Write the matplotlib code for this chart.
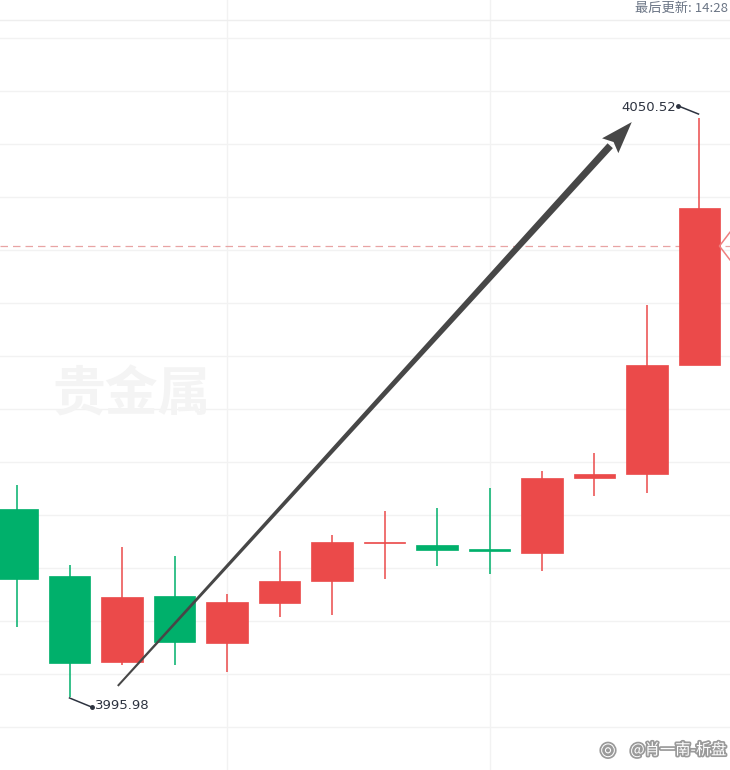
import matplotlib
matplotlib.use("Agg")
import matplotlib.pyplot as plt
from matplotlib.patches import Polygon
import matplotlib.patheffects as pe
import numpy as np

plt.rcParams['font.family'] = ['Noto Sans CJK SC', 'DejaVu Sans']

# ---- data (OHLC) ----
opens  = [4013.69, 4007.38, 3999.28, 4005.49, 4001.07, 4004.83, 4006.91, 4010.48, 4010.30, 4009.93, 4009.54, 4016.61, 4016.99, 4027.25]
highs  = [4015.95, 4008.41, 4010.11, 4009.26, 4005.68, 4009.73, 4011.24, 4013.50, 4013.78, 4015.67, 4017.27, 4018.96, 4032.91, 4050.52]
lows   = [4002.57, 3995.98, 3998.99, 3998.99, 3998.33, 4003.52, 4003.70, 4007.10, 4008.32, 4007.57, 4007.85, 4014.91, 4015.20, 4027.25]
closes = [4007.10, 3999.18, 4005.40, 4001.16, 4004.93, 4006.91, 4010.58, 4010.58, 4009.83, 4009.73, 4016.61, 4016.99, 4027.25, 4042.04]
grid_levels = [4058.06, 4053.07, 4048.08, 4043.08, 4038.09, 4033.10, 4028.11, 4023.12, 4018.12, 4013.13,
               4008.14, 4003.15, 3998.15, 3993.16, 3988.17]
ref_price = 4038.46
arrow_start = (1.92, 3997.02)
arrow_end = (11.71, 4050.14)
header_text = "最后更新: 14:28"
watermark = "贵金属"
weibo = "@肖一南-析盘"

RED = "#eb4a4a"
GREEN = "#00b06b"

fig = plt.figure(figsize=(7.3, 7.7), dpi=100)
ax = fig.add_axes([0, 0, 1, 1])
ax.set_xlim(-0.324, 13.581)
ax.set_ylim(3989.10, 4061.64)
ax.axis('off')

# grid
for g in grid_levels:
    ax.axhline(g, color="#f2f2f2", lw=1, zorder=0)
for xv in [4, 9]:
    ax.axvline(xv, color="#f2f2f2", lw=1, zorder=0)

# watermark
ax.text(3.68, 4024.4, watermark, fontsize=38, fontweight='bold', color="#f4f4f4",
        ha='right', va='center', zorder=0.5)

# header
ax.axhline(4059.76, color="#eeeeee", lw=1, zorder=0)
fig.text(728 / 730, 1 - 8 / 770, header_text, fontsize=9.5, color="#6b7585", ha='right', va='center')

# reference dashed line
ax.axhline(ref_price, color="#e8a4a4", lw=0.9, ls=(0, (6, 4)), zorder=1)

# candles
x = np.arange(len(opens))
for i in x:
    o, h, l, c = opens[i], highs[i], lows[i], closes[i]
    col = RED if c >= o else GREEN
    ax.vlines(i, l, h, color=col, lw=1.1, zorder=2)
    bottom = min(o, c)
    height = max(abs(c - o), 0.14)
    ax.bar(i, height, bottom=bottom, width=0.79, color=col, edgecolor=col, lw=0.5, zorder=3)

# right edge marker
ax.plot([13.58, 13.38, 13.58], [ref_price + 1.3, ref_price, ref_price - 1.3], color="#ef7f7f", lw=1.1,
        zorder=4, clip_on=False)

# high / low labels
def label(idx, price, dx1, dy1, dx2, dy2, tdx, tdy, text, ha):
    t0 = ax.transData.transform((idx, price))
    a = (t0[0] + dx1, t0[1] + dy1)
    b = (t0[0] + dx2, t0[1] + dy2)
    ax.plot([a[0], b[0]], [a[1], b[1]], color="#2d3340", lw=1.1, transform=None, zorder=5)
    ax.plot([b[0]], [b[1]], 'o', ms=2.5, color="#2d3340", transform=None, zorder=5)
    ax.text(t0[0] + tdx, t0[1] + tdy, text, fontsize=9.5, color="#2d3340", ha=ha, va='center',
            transform=None, family=['DejaVu Sans'])

fig.canvas.draw()
hi = int(np.argmax(highs))
lo = int(np.argmin(lows))
label(hi, highs[hi], -1, 4, -21, 12, -23, 11, f"{highs[hi]:.2f}", 'right')
label(lo, lows[lo], 0, -1, 22, -10, 25, -9, f"{lows[lo]:.2f}", 'left')

# drawn arrow (tapered shaft + head) in pixel space
s = ax.transData.transform(arrow_start)
e = ax.transData.transform(arrow_end)
d = (e - s) / np.hypot(*(e - s))
n = np.array([-d[1], d[0]])
head_len, head_hw = 32, 11
base = e - d * head_len
w0, w1 = 1.0, 3.6
shaft = [s + n * w0, base + n * w1, base - n * w1, s - n * w0]
ax.add_patch(Polygon(shaft, closed=True, transform=None, color="#474747", lw=0, zorder=6))
head = [e, base + n * head_hw, base + d * 5, base - n * head_hw]
ax.add_patch(Polygon(head, closed=True, transform=None, color="#474747", lw=0, zorder=6))

# weibo watermark
fig.text(0.995, 1 - 750 / 770, weibo, fontsize=11, color="white", ha='right', va='center',
         path_effects=[pe.withStroke(linewidth=2.5, foreground="#9a9a9a")])
fig.text(608 / 730, 1 - 750 / 770, "◎", fontsize=13, color="white", ha='center', va='center',
         path_effects=[pe.withStroke(linewidth=2.5, foreground="#9a9a9a")], family=['DejaVu Sans'])

fig.savefig("out.png", dpi=100)
